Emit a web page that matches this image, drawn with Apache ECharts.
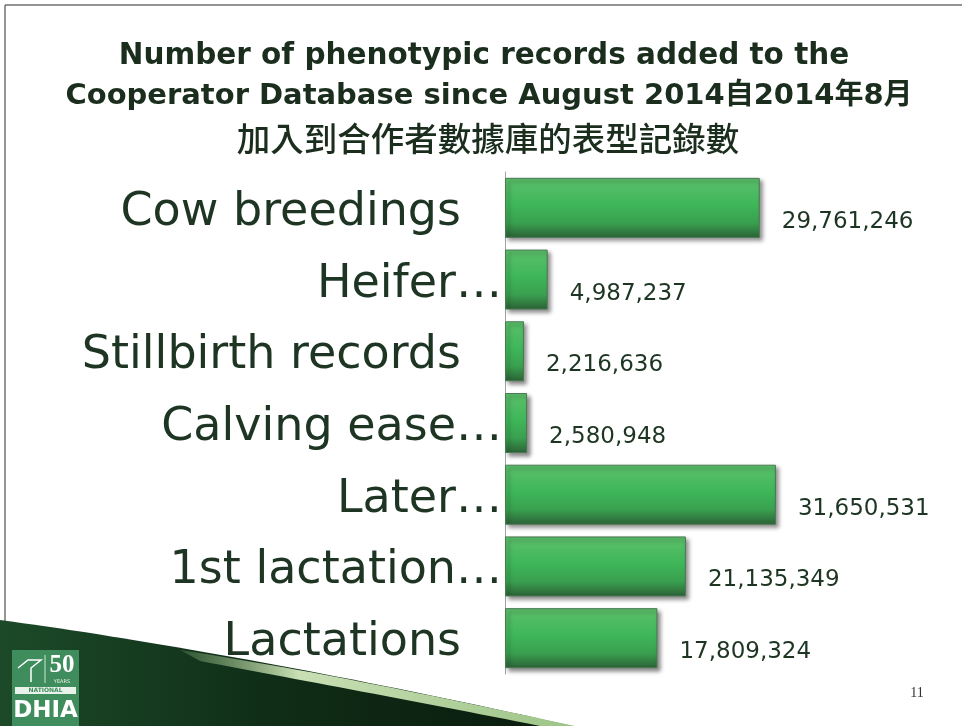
<!DOCTYPE html>
<html>
<head>
<meta charset="utf-8">
<title>Phenotypic records</title>
<script src="https://cdn.jsdelivr.net/npm/echarts@6/dist/echarts.min.js"></script>
<style>
html,body{margin:0;padding:0;background:#fff;}
#graph{width:962px;height:726px;}
</style>
</head>
<body>
<div id="graph"></div>
<script>
var titleLines = [
    'Number of phenotypic records added to the',
    'Cooperator Database since August 2014自2014年8月',
    '加入到合作者數據庫的表型記錄數'
];
var categories = ['Cow breedings', 'Heifer…', 'Stillbirth records', 'Calving ease…', 'Later…', '1st lactation…', 'Lactations'];
var records = [29761246, 4987237, 2216636, 2580948, 31650531, 21135349, 17809324];
var pageNo = '11';

function fmt(n){
    return String(n).replace(/\B(?=(\d{3})+(?!\d))/g, ',');
}

// sample a cubic curve into polygon points (slide decoration only)
function curve(p0, p1, p2, p3, n){
    var pts = [];
    for (var i = 0; i <= n; i++) {
        var t = i / n, u = 1 - t;
        pts.push([
            u*u*u*p0[0] + 3*u*u*t*p1[0] + 3*u*t*t*p2[0] + t*t*t*p3[0],
            u*u*u*p0[1] + 3*u*u*t*p1[1] + 3*u*t*t*p2[1] + t*t*t*p3[1]
        ]);
    }
    return pts;
}

function draw(){
    var dom = document.getElementById('graph');
    var myChart = echarts.init(dom, null, {renderer: 'canvas'});
    var darkText = '#1b2e1e';
    var labelText = '#1d3522';

    var swoosh = curve([0, 620], [150, 640], [360, 678], [572, 726], 40);
    swoosh.push([0, 726]);
    var hiTop = curve([180, 650], [310, 670], [445, 698], [575, 726], 30);
    var hiBot = curve([540, 726], [420, 702], [300, 680], [200, 661], 30);
    var highlight = hiTop.concat(hiBot);

    var option = {
        backgroundColor: '#fff',
        animation: false,
        title: [
            {text: titleLines[0], left: 479, top: 37, textAlign: 'center',
             textStyle: {fontFamily: "'DejaVu Sans', 'Noto Sans CJK TC'", fontWeight: 'bold', fontSize: 29.5, color: darkText}},
            {text: titleLines[1], left: 484, top: 77, textAlign: 'center',
             textStyle: {fontFamily: "'DejaVu Sans', 'Noto Sans CJK TC'", fontWeight: 'bold', fontSize: 29, color: darkText}},
            {text: titleLines[2], left: 483, top: 117, textAlign: 'center',
             textStyle: {fontFamily: "'Noto Sans CJK TC'", fontWeight: 500, fontSize: 33.5, color: darkText}}
        ],
        grid: {left: 505, right: 29, top: 172, bottom: 52, containLabel: false},
        xAxis: {
            type: 'value',
            min: 0,
            max: 50000000,
            show: false
        },
        yAxis: {
            type: 'category',
            inverse: true,
            data: categories,
            axisTick: {show: false},
            axisLine: {show: true, lineStyle: {color: '#a3a3a3', width: 1}},
            axisLabel: {
                margin: 3,
                formatter: function(v){
                    return v.indexOf('…') >= 0 ? '{cut|' + v + '}' : '{full|' + v + '}';
                },
                rich: {
                    cut: {fontFamily: "'DejaVu Sans'", fontSize: 46, color: labelText, padding: [10, 0, 0, 0]},
                    full: {fontFamily: "'DejaVu Sans'", fontSize: 46, color: labelText, padding: [10, 41, 0, 0]}
                }
            }
        },
        series: [{
            type: 'bar',
            data: records,
            barWidth: 60,
            itemStyle: {
                color: new echarts.graphic.LinearGradient(0, 0, 0, 1, [
                    {offset: 0, color: '#5cc06b'},
                    {offset: 0.45, color: '#3fb659'},
                    {offset: 0.75, color: '#39a04f'},
                    {offset: 1, color: '#2c6136'}
                ]),
                borderColor: '#4a7a53',
                borderWidth: 1,
                shadowColor: 'rgba(0,0,0,0.45)',
                shadowBlur: 4,
                shadowOffsetX: 3,
                shadowOffsetY: 3
            },
            label: {
                show: true,
                position: 'right',
                distance: 22,
                offset: [0, 14],
                fontFamily: "'DejaVu Sans'",
                fontSize: 23,
                color: labelText,
                formatter: function(p){ return fmt(p.value); }
            }
        }],
        graphic: [
            {type: 'line', shape: {x1: 5, y1: 5, x2: 962, y2: 5}, style: {stroke: '#707070', lineWidth: 1.5}, silent: true},
            {type: 'line', shape: {x1: 5, y1: 5, x2: 5, y2: 640}, style: {stroke: '#707070', lineWidth: 1.5}, silent: true},
            {type: 'polygon', shape: {points: swoosh},
             style: {fill: new echarts.graphic.LinearGradient(0, 0, 1, 0, [
                {offset: 0, color: '#1c4a29'}, {offset: 0.5, color: '#0f2c16'}, {offset: 1, color: '#0a1a0d'}])}, z: 10, silent: true},
            {type: 'polygon', shape: {points: highlight},
             style: {fill: new echarts.graphic.LinearGradient(0, 0, 1, 0, [
                {offset: 0, color: 'rgba(160,200,140,0.2)'}, {offset: 0.3, color: '#c9dfb4'}, {offset: 1, color: '#9cc487'}])}, z: 11, silent: true},
            {type: 'rect', shape: {x: 12, y: 650, width: 67, height: 76}, style: {fill: '#3f8c5c'}, z: 12, silent: true},
            {type: 'line', shape: {x1: 45, y1: 655, x2: 45, y2: 683}, style: {stroke: '#cfe5d5', lineWidth: 1}, z: 13, silent: true},
            {type: 'polyline', shape: {points: [[18, 668], [28, 660], [41, 660], [31, 668], [31, 682]]}, style: {stroke: '#ffffff', lineWidth: 1.5}, z: 13, silent: true},
            {type: 'text', style: {text: '50', x: 62, y: 666, align: 'center', verticalAlign: 'middle', font: 'bold 25px "Liberation Serif"', fill: '#fff'}, z: 13, silent: true},
            {type: 'text', style: {text: 'YEARS', x: 62, y: 682, align: 'center', verticalAlign: 'middle', font: '5px "DejaVu Sans"', fill: '#e6f2e9'}, z: 13, silent: true},
            {type: 'rect', shape: {x: 15, y: 687, width: 61, height: 7}, style: {fill: '#e8f2ea'}, z: 13, silent: true},
            {type: 'text', style: {text: 'NATIONAL', x: 45.5, y: 690.5, align: 'center', verticalAlign: 'middle', font: 'bold 6px "DejaVu Sans"', fill: '#3f8c5c'}, z: 14, silent: true},
            {type: 'text', style: {text: 'DHIA', x: 45.5, y: 711, align: 'center', verticalAlign: 'middle', font: 'bold 23px "DejaVu Sans"', fill: '#fff'}, z: 13, silent: true},
            {type: 'text', style: {text: pageNo, x: 917, y: 693, align: 'center', verticalAlign: 'middle', font: '14px "Liberation Serif"', fill: '#333'}, silent: true}
        ]
    };
    if (option && typeof option === "object") {
        myChart.setOption(option, true);
    }
}

draw();
</script>
</body>
</html>
